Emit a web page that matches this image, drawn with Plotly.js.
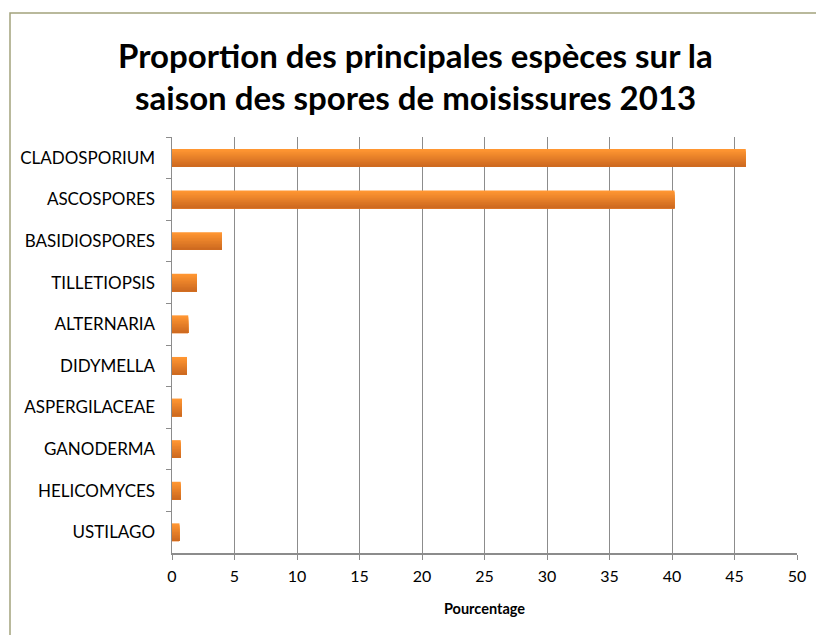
<!DOCTYPE html>
<html>
<head>
<meta charset="utf-8">
<script src="https://cdn.plot.ly/plotly-3.0.1.min.js"></script>
<style>html,body{margin:0;padding:0;background:#fff;}#chart{width:816px;height:635px;}</style>
</head>
<body>
<div id="chart"></div>
<script>
const categories = ["CLADOSPORIUM","ASCOSPORES","BASIDIOSPORES","TILLETIOPSIS","ALTERNARIA","DIDYMELLA","ASPERGILACEAE","GANODERMA","HELICOMYCES","USTILAGO"];
const percentages = [45.9, 40.2, 4.0, 2.0, 1.3, 1.2, 0.8, 0.7, 0.7, 0.6];
const xTickValues = [0,5,10,15,20,25,30,35,40,45,50];
const titleLines = ["Proportion des principales espèces sur la", "saison des spores de moisissures 2013"];
const xAxisTitle = "Pourcentage";

// vertical gradient on each bar: stacked bands, each reaching the bar's bottom edge
const nBands = 12, barW = 0.425;
const colTop = [255,150,50], colBot = [206,106,32];
const traces = [];
for (let k = 0; k < nBands; k++) {
  const t = k/(nBands-1);
  const c = colTop.map((v,i)=>Math.round(v+(colBot[i]-v)*t));
  const off = -barW/2 + k*barW/nBands;
  traces.push({
    type:'bar', orientation:'h',
    x: percentages, y: categories,
    width: barW/2 - off,
    offset: off,
    marker:{color:`rgb(${c[0]},${c[1]},${c[2]})`, line:{width:0}},
    hoverinfo: k===0 ? 'x+y' : 'skip',
    showlegend:false
  });
}

const font = "Lato, 'Open Sans', sans-serif";
const L=172, R=797, T=137, B=553;
const px2x = p => (p-L)/(R-L);
const py2y = p => (B-p)/(B-T);

const layout = {
  width:816, height:635,
  margin:{l:L, r:816-R, t:T, b:635-B, pad:0},
  paper_bgcolor:'#fff', plot_bgcolor:'#fff',
  barmode:'overlay',
  font:{family:font, color:'#000', size:14},
  xaxis:{
    range:[0,50], tickvals:xTickValues, ticktext:xTickValues.map(String),
    showgrid:true, gridcolor:'#8c8c8c', gridwidth:1,
    zeroline:false, showline:true, linecolor:'#8c8c8c', linewidth:1.5,
    ticks:'outside', ticklen:5, tickcolor:'#8c8c8c', tickwidth:1,
    ticklabelstandoff:3,
    tickfont:{family:font, size:16, color:'#000'},
    title:{text:'<b>'+xAxisTitle+'</b>', font:{family:font, size:14.5, color:'#000'}, standoff:20},
    fixedrange:true
  },
  yaxis:{
    type:'category', categoryorder:'array', categoryarray:categories,
    autorange:'reversed',
    showgrid:false, zeroline:false, showline:true, linecolor:'#8c8c8c', linewidth:1.5,
    ticks:'outside', tickson:'boundaries', ticklen:5, tickcolor:'#8c8c8c', tickwidth:1,
    ticklabelstandoff:12,
    tickfont:{family:font, size:17, color:'#000'},
    fixedrange:true
  },
  shapes:[{
    type:'rect', xref:'paper', yref:'paper',
    x0:px2x(10), x1:px2x(830), y0:py2y(650), y1:py2y(13),
    line:{color:'#a3a27c', width:1.5}, fillcolor:'rgba(0,0,0,0)', layer:'below'
  }],
  annotations:[
    {xref:'paper', yref:'paper', x:px2x(415), y:py2y(55), xanchor:'center', yanchor:'middle', showarrow:false,
     text:'<b>'+titleLines[0]+'</b>', font:{family:font, size:33, color:'#000'}},
    {xref:'paper', yref:'paper', x:px2x(415), y:py2y(97), xanchor:'center', yanchor:'middle', showarrow:false,
     text:'<b>'+titleLines[1]+'</b>', font:{family:font, size:33, color:'#000'}}
  ]
};

Plotly.newPlot('chart', traces, layout, {displayModeBar:false, staticPlot:true});
</script>
</body>
</html>
